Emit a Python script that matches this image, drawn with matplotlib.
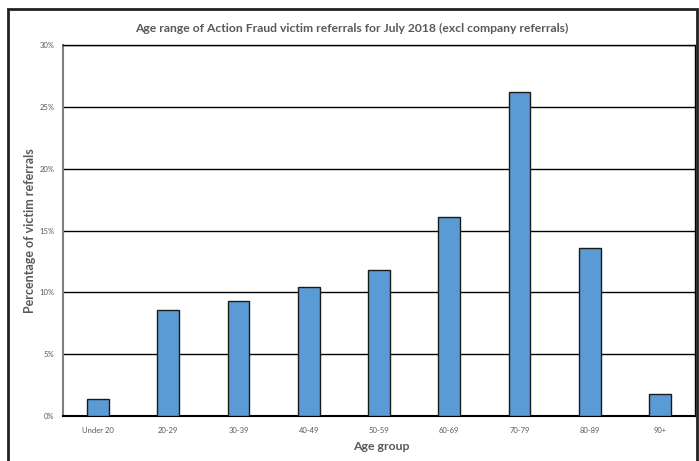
import matplotlib
matplotlib.use("Agg")
import matplotlib.pyplot as plt
from matplotlib.patches import Rectangle
from matplotlib.ticker import FuncFormatter

categories = ["Under 20", "20-29", "30-39", "40-49", "50-59", "60-69", "70-79", "80-89", "90+"]
values = [1.4, 8.6, 9.3, 10.4, 11.8, 16.1, 26.2, 13.6, 1.8]
yticks = [0, 5, 10, 15, 20, 25, 30]

plt.rcParams['font.family'] = ['Lato', 'DejaVu Sans']

fig = plt.figure(figsize=(6.99, 4.61), dpi=100)
ax = fig.add_axes([63/699, 1-416/461, (695-63)/699, (416-45)/461])

x = list(range(len(categories)))
ax.bar(x, values, width=0.31, color="#5B9BD5", edgecolor="#1a1a1a", linewidth=1.0, zorder=3)

ax.set_xlim(-0.5, len(categories)-0.5)
ax.set_ylim(0, 30)
ax.set_yticks(yticks)
ax.yaxis.set_major_formatter(FuncFormatter(lambda v, p: f"{int(v)}%"))
ax.set_xticks(x)
ax.set_xticklabels(categories)
ax.tick_params(axis='both', length=0, colors="#595959")
ax.tick_params(axis='x', pad=8, labelsize=5.5)
ax.tick_params(axis='y', pad=6, labelsize=5.5)
ax.yaxis.grid(True, color="#000000", linewidth=1.0, zorder=1)
ax.set_axisbelow(True)
for s in ["top", "right"]:
    ax.spines[s].set_color("#000000")
    ax.spines[s].set_linewidth(1.0)
ax.spines["left"].set_color("#7f7f7f")
ax.spines["left"].set_linewidth(1.5)
ax.spines["bottom"].set_color("#000000")
ax.spines["bottom"].set_linewidth(1.5)

ax.set_ylabel("Percentage of victim referrals", fontsize=9, fontweight="bold", color="#595959")
ax.yaxis.set_label_coords((36-63)/632, 0.5)
ax.set_xlabel("Age group", fontsize=8.8, fontweight="bold", color="#595959")
ax.xaxis.set_label_coords(0.5 + 2/632, (416-441)/371)
fig.text(352/699, 1-28/461, "Age range of Action Fraud victim referrals for July 2018 (excl company referrals)",
         ha="center", va="center", fontsize=8.7, fontweight="bold", color="#595959")

fig.patches.append(Rectangle((8/699, -0.01), (697-8)/699, 1-9/461+0.01, transform=fig.transFigure,
                             fill=False, edgecolor="#222222", linewidth=2))

fig.savefig("out.png", dpi=100)
